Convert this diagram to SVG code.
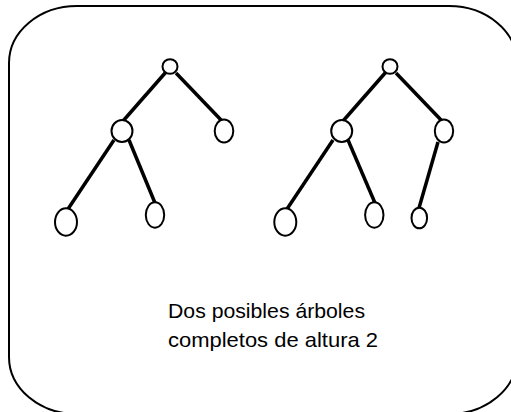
<svg xmlns="http://www.w3.org/2000/svg" width="511" height="412" viewBox="0 0 511 412">
<style>
.frame{fill:none;stroke:#000;stroke-width:2}
.node{fill:#fff;stroke:#000;stroke-width:2}
.edge{stroke:#000;stroke-width:3.5;stroke-linecap:butt}
.lbl{font-family:"Liberation Sans",Arial,sans-serif;font-size:21px;fill:#000}
</style>
<rect class="frame" x="9" y="6" width="508" height="408" rx="68" ry="57"/>
<g id="connectors">
<line class="edge" x1="166" y1="72" x2="123" y2="121"/>
<line class="edge" x1="176" y1="73" x2="222" y2="121"/>
<line class="edge" x1="114" y1="140" x2="68" y2="209"/>
<line class="edge" x1="129" y1="140" x2="155" y2="203"/>
<line class="edge" x1="386" y1="72" x2="343" y2="121"/>
<line class="edge" x1="396" y1="73" x2="442" y2="121"/>
<line class="edge" x1="333" y1="140" x2="287" y2="209"/>
<line class="edge" x1="348" y1="140" x2="375" y2="203"/>
<line class="edge" x1="438" y1="142" x2="419" y2="208"/>
</g>
<g id="t1-root"><ellipse class="node" cx="170" cy="66.5" rx="7.5" ry="7.3"/></g>
<g id="t1-left"><ellipse class="node" cx="122" cy="131" rx="10.5" ry="11"/></g>
<g id="t1-right"><ellipse class="node" cx="224" cy="131" rx="9.3" ry="11.5"/></g>
<g id="t1-ll"><ellipse class="node" cx="66" cy="222" rx="11" ry="13.7"/></g>
<g id="t1-lr"><ellipse class="node" cx="155" cy="215" rx="9.2" ry="12.7"/></g>
<g id="t2-root"><ellipse class="node" cx="390" cy="66.5" rx="7.5" ry="7.3"/></g>
<g id="t2-left"><ellipse class="node" cx="341.7" cy="131" rx="10.5" ry="11"/></g>
<g id="t2-right"><ellipse class="node" cx="444" cy="131" rx="9.2" ry="11.5"/></g>
<g id="t2-ll"><ellipse class="node" cx="285.3" cy="222" rx="11" ry="13.7"/></g>
<g id="t2-lr"><ellipse class="node" cx="374.3" cy="215" rx="9.2" ry="12.7"/></g>
<g id="t2-rl"><ellipse class="node" cx="419.3" cy="218" rx="7.8" ry="10.3"/></g>
<g id="caption">
<text class="lbl" x="168" y="318" textLength="197" lengthAdjust="spacingAndGlyphs">Dos posibles árboles</text>
<text class="lbl" x="168" y="347" textLength="210" lengthAdjust="spacingAndGlyphs">completos de altura 2</text>
</g>
</svg>
